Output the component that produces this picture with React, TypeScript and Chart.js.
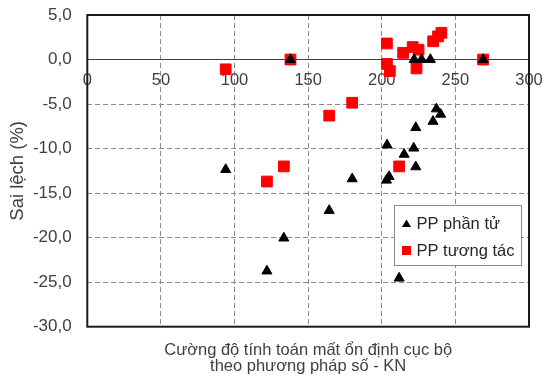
import React, { useEffect, useRef } from 'react';
import { Chart, registerables } from 'chart.js';

Chart.register(...registerables);

const seriesNames = ['PP phần tử', 'PP tương tác'];

const elementX = [94, 122, 133.5, 138, 164.3, 179.9, 203.2, 205, 203.6, 211.8, 215.2, 221.7, 223.1, 223.1, 222, 227, 233, 234.8, 237.1, 240, 268.8];
const elementY = [-12.35, -23.75, -20.05, 0, -16.95, -13.4, -13.55, -13.15, -9.6, -24.55, -10.65, -9.95, -12.05, -7.65, 0, 0, 0, -6.95, -5.55, -6.15, 0];

const interX = [94, 122, 133.5, 138, 164.3, 179.9, 203.5, 203.5, 205.5, 211.8, 214.5, 221, 225, 223.6, 234.9, 238.2, 240.5, 268.8];
const interY = [-1.1, -13.7, -12.0, 0, -6.3, -4.85, 1.8, -0.5, -1.3, -12.0, 0.75, 1.4, 1.1, -1.0, 2.05, 2.6, 3.0, 0];

const xMin = 0;
const xMax = 300;
const xStep = 50;
const yMin = -30;
const yMax = 5;
const yStep = 5;

const yAxisTitle = 'Sai lệch (%)';
const xAxisTitle = ['Cường độ tính toán mất ổn định cục bộ', 'theo phương pháp số - KN'];

const FONT = '"Liberation Sans", Arial, sans-serif';

export default function App() {
  const ref = useRef<HTMLCanvasElement>(null);

  useEffect(() => {
    const canvas = ref.current;
    if (!canvas) return;

    const framePlugin = {
      id: 'frame',
      beforeDatasetsDraw(chart: any) {
        const { ctx, chartArea: a } = chart;
        ctx.save();
        ctx.strokeStyle = '#1a1a1a';
        ctx.lineWidth = 2;
        ctx.strokeRect(a.left, a.top, a.right - a.left, a.bottom - a.top);
        ctx.restore();
      },
    };

    const legendPlugin = {
      id: 'boxLegend',
      afterDraw(chart: any) {
        const { ctx, chartArea: a } = chart;
        const left = Math.round(a.right - 135) + 0.5;
        const top = Math.round(a.top + 190) + 0.5;
        const w = 127;
        const h = 60;
        ctx.save();
        ctx.fillStyle = '#ffffff';
        ctx.fillRect(left, top, w, h);
        ctx.strokeStyle = '#8c8c8c';
        ctx.lineWidth = 1;
        ctx.strokeRect(left, top, w, h);
        ctx.font = `16.5px ${FONT}`;
        ctx.textBaseline = 'middle';
        ctx.textAlign = 'left';
        chart.data.datasets.forEach((ds: any, i: number) => {
          const cy = top + 18 + i * 27;
          const cx = left + 12;
          ctx.fillStyle = ds.backgroundColor;
          if (ds.pointStyle === 'triangle') {
            ctx.beginPath();
            ctx.moveTo(cx, cy - 4);
            ctx.lineTo(cx + 4.6, cy + 3.6);
            ctx.lineTo(cx - 4.6, cy + 3.6);
            ctx.closePath();
            ctx.fill();
          } else {
            ctx.fillRect(cx - 4.5, cy - 4.5, 9, 9);
          }
          ctx.fillStyle = '#262626';
          ctx.fillText(ds.label, left + 22, cy + 1);
        });
        ctx.restore();
      },
    };

    const chart = new Chart(canvas, {
      type: 'scatter',
      data: {
        datasets: [
          {
            label: seriesNames[0],
            data: elementX.map((x, i) => ({ x, y: elementY[i] })),
            pointStyle: 'triangle',
            pointRadius: 5.8,
            backgroundColor: '#000000',
            borderColor: '#000000',
            borderWidth: 1,
          },
          {
            label: seriesNames[1],
            data: interX.map((x, i) => ({ x, y: interY[i] })),
            pointStyle: 'rect',
            pointRadius: 7.6,
            backgroundColor: '#ff0000',
            borderColor: '#ff0000',
            borderWidth: 1,
          },
        ],
      },
      options: {
        animation: false,
        responsive: false,
        layout: { padding: { left: 0, right: 15, top: 15, bottom: 0 } },
        scales: {
          x: {
            type: 'linear',
            min: xMin,
            max: xMax,
            position: { y: 0 } as any,
            ticks: {
              stepSize: xStep,
              padding: 11,
              color: '#404040',
              font: { family: FONT, size: 16.5 },
            },
            grid: { color: '#8a8a8a', lineWidth: 1, drawTicks: false },
            border: { display: true, color: '#404040', width: 1, dash: [5, 3] },
            afterFit: (scale: any) => {
              scale.paddingLeft = 0;
              scale.paddingRight = 0;
              scale.paddingTop = 0;
              scale.paddingBottom = 0;
            },
          },
          y: {
            type: 'linear',
            min: yMin,
            max: yMax,
            ticks: {
              stepSize: yStep,
              padding: 15.6,
              color: '#404040',
              font: { family: FONT, size: 17 },
              callback: (v: any) => Number(v).toFixed(1).replace('.', ','),
            },
            grid: {
              color: (c: any) => (c.tick && c.tick.value === 0 ? 'rgba(0,0,0,0)' : '#8a8a8a'),
              lineWidth: 1,
              drawTicks: false,
            },
            border: { display: false, dash: [5, 3] },
            title: {
              display: true,
              text: yAxisTitle,
              color: '#404040',
              font: { family: FONT, size: 18.5 },
              padding: { top: 7.2, bottom: 0 },
            },
            afterFit: (scale: any) => {
              scale.width = 87.3;
              scale.paddingTop = 0;
              scale.paddingBottom = 0;
              scale.paddingLeft = 0;
              scale.paddingRight = 0;
            },
          },
        },
        plugins: {
          legend: { display: false },
          tooltip: { enabled: false },
          title: {
            display: true,
            position: 'bottom',
            fullSize: false,
            text: xAxisTitle,
            color: '#404040',
            font: { family: FONT, size: 16.5, weight: 'normal', lineHeight: '16px' },
            padding: { top: 16, bottom: 6.3 },
          },
        },
      },
      plugins: [framePlugin, legendPlugin],
    } as any);

    return () => chart.destroy();
  }, []);

  return (
    <div style={{ position: 'fixed', left: 0, top: 0, width: 544, height: 381, background: '#fff' }}>
      <canvas ref={ref} width={544} height={381} style={{ width: 544, height: 381, display: 'block' }} />
    </div>
  );
}
